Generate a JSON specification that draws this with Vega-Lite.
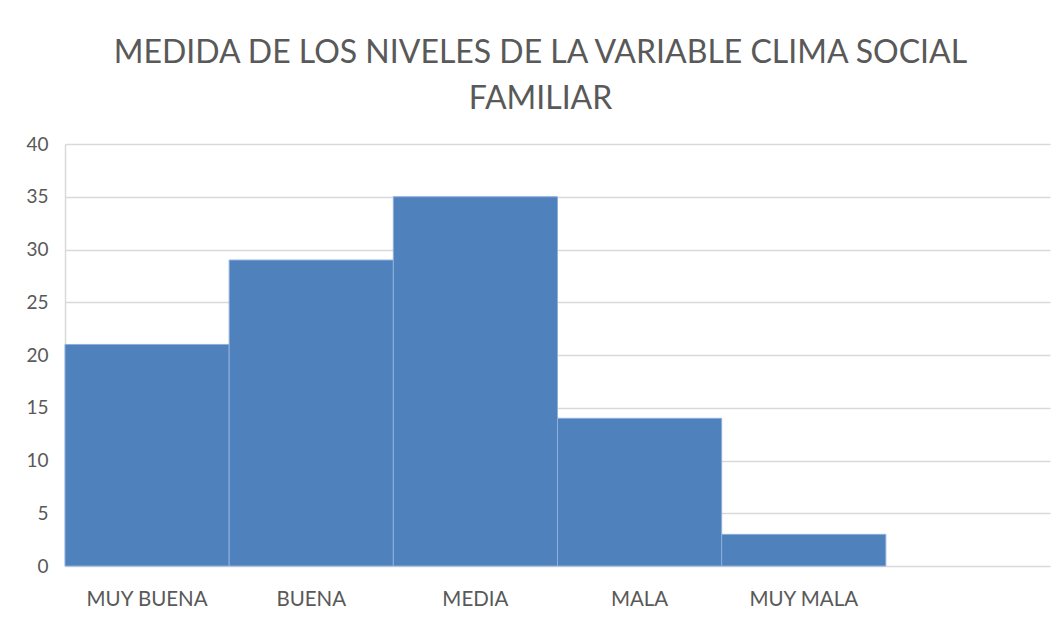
{
  "$schema": "https://vega.github.io/schema/vega-lite/v6.json",
  "autosize": {"type": "none"},
  "padding": {"left": 65, "top": 144, "right": 6, "bottom": 51},
  "width": 985,
  "height": 422,
  "background": "white",
  "title": {
    "text": ["MEDIDA DE LOS NIVELES DE LA VARIABLE CLIMA SOCIAL", "FAMILIAR"],
    "font": "Lato",
    "fontSize": 32,
    "fontWeight": "normal",
    "color": "#595959",
    "lineHeight": 46,
    "anchor": "middle",
    "dx": -17,
    "offset": 19
  },
  "data": {
    "values": [
      {"nivel": "MUY BUENA", "valor": 21},
      {"nivel": "BUENA", "valor": 29},
      {"nivel": "MEDIA", "valor": 35},
      {"nivel": "MALA", "valor": 14},
      {"nivel": "MUY MALA", "valor": 3}
    ]
  },
  "mark": {"type": "bar", "color": "#4F81BD", "stroke": "#8eaedb", "strokeWidth": 1},
  "encoding": {
    "x": {
      "field": "nivel",
      "type": "nominal",
      "sort": null,
      "scale": {"domain": ["MUY BUENA", "BUENA", "MEDIA", "MALA", "MUY MALA", " "], "paddingInner": 0, "paddingOuter": 0},
      "axis": {
        "title": null,
        "labelAngle": 0,
        "labelFont": "Lato",
        "labelFontSize": 20.5,
        "labelColor": "#595959",
        "labelPadding": 23,
        "ticks": false,
        "domain": false,
        "grid": false
      }
    },
    "y": {
      "field": "valor",
      "type": "quantitative",
      "scale": {"domain": [0, 40], "nice": false},
      "axis": {
        "title": null,
        "values": [0, 5, 10, 15, 20, 25, 30, 35, 40],
        "labelFont": "Lato",
        "labelFontSize": 19,
        "labelColor": "#595959",
        "labelPadding": 17,
        "ticks": false,
        "domain": true,
        "domainColor": "#d9d9d9",
        "domainWidth": 1.5,
        "grid": true,
        "gridColor": "#d9d9d9",
        "gridWidth": 1.5
      }
    }
  },
  "config": {"view": {"stroke": null}}
}
